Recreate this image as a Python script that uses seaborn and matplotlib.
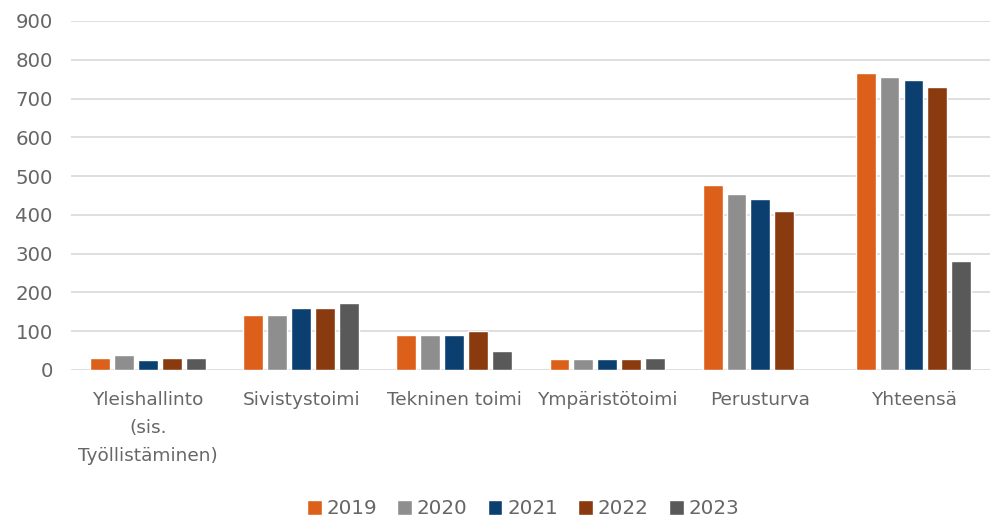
import numpy as np
import pandas as pd
import matplotlib.pyplot as plt
import seaborn as sns

# --------------------------------------------------------------------------
# Data
# --------------------------------------------------------------------------
categories = ["Yleishallinto\n(sis.\nTyöllistäminen)", "Sivistystoimi", "Tekninen toimi",
              "Ympäristötoimi", "Perusturva", "Yhteensä"]
years = ["2019", "2020", "2021", "2022", "2023"]

v2019 = [30, 141, 91, 27, 477, 765]
v2020 = [39, 141, 91, 27, 453, 756]
v2021 = [25, 159, 91, 27, 442, 747]
v2022 = [30, 159, 100, 27, 411, 729]
v2023 = [30, 173, 49, 32, np.nan, 282]

colors = ["#DC6019", "#8E8E8E", "#0B3F6F", "#8A3A0F", "#595959"]

rows = []
for year, vals in zip(years, [v2019, v2020, v2021, v2022, v2023]):
    for cat, v in zip(categories, vals):
        rows.append({"category": cat, "year": year, "value": v})
df = pd.DataFrame(rows)

# --------------------------------------------------------------------------
# Plot
# --------------------------------------------------------------------------
sns.set_style("white")
plt.rcParams["font.family"] = ["DejaVu Sans"]

fig = plt.figure(figsize=(9.92, 5.21), dpi=100)
ax = fig.add_axes([0.072, 0.29, 0.926, 0.6697])

sns.barplot(data=df, x="category", y="value", hue="year", palette=colors,
            width=0.78, gap=0.17, saturation=1, ax=ax, zorder=3)

ax.set_ylim(0, 900)
ax.set_xlim(-0.5, 5.5)
ax.set_yticks(range(0, 901, 100))
ax.yaxis.grid(True, color="#D9D9D9", linewidth=1.2, zorder=0)
ax.set_axisbelow(True)
for s in ax.spines.values():
    s.set_visible(False)
ax.set_xlabel("")
ax.set_ylabel("")
ax.tick_params(axis="both", length=0, labelcolor="#666666")
ax.tick_params(axis="y", labelsize=14.2, pad=13.5)
ax.tick_params(axis="x", labelsize=13.3, pad=15.5)
for lbl in ax.get_xticklabels():
    lbl.set_linespacing(1.7)
    lbl.set_verticalalignment("top")

# legend centred at x~523px, y~509px in figure pixels
leg_x = (523 / 992 - 0.072) / 0.926
leg_y = (1 - 509 / 521 - 0.29) / 0.6697
ax.legend(loc="center", bbox_to_anchor=(leg_x, leg_y),
          ncol=5, frameon=False, fontsize=14.3, labelcolor="#666666",
          handlelength=0.75, handleheight=0.75, handletextpad=0.25, columnspacing=1.0)

fig.savefig("out.png", dpi=100)
